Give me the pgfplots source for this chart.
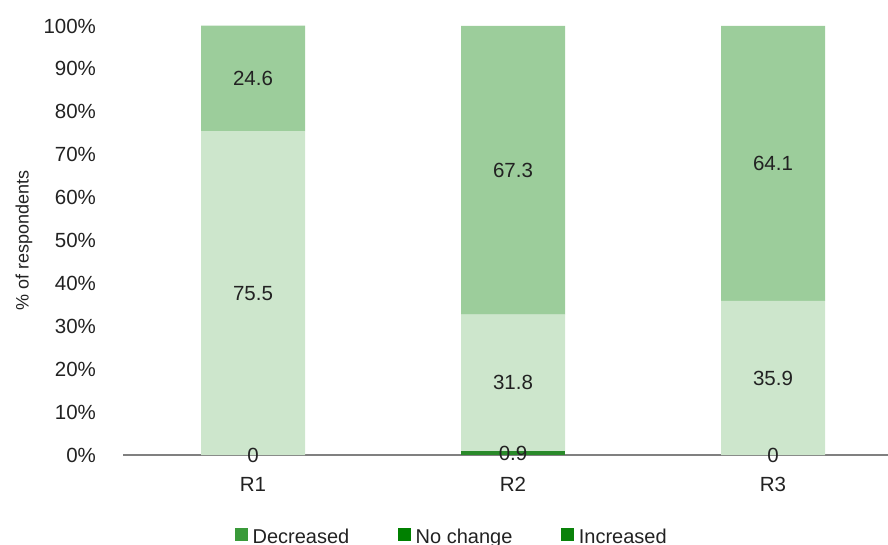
\documentclass[border=0pt]{standalone}
\usepackage{pgfplots}
\pgfplotsset{compat=1.18}
\usepackage{pgfplotstable}
\usepackage{fontspec}
\setmainfont{Liberation Sans}

\definecolor{decbar}{HTML}{9CCD9B}
\definecolor{ncbar}{HTML}{CDE6CC}
\definecolor{incbar}{HTML}{2A8A2A}
\definecolor{declegend}{HTML}{3A9A3A}
\definecolor{nclegend}{HTML}{008000}
\definecolor{inclegend}{HTML}{0A820A}
\definecolor{txt}{HTML}{222222}
\definecolor{axisgray}{HTML}{808080}

% share of respondents per round
\pgfplotstableread{
x inc noch dec
0 0   75.5 24.6
1 0.9 31.8 67.3
2 0   35.9 64.1
}\shares

\pgfplotsset{
  panel/.style={
    at={(123pt,89pt)}, anchor=south west,
    scale only axis, width=765pt, height=429pt,
    xmin=-0.5, xmax=2.4423, ymin=0, ymax=100,
    enlargelimits=false,
  },
  swatch/.style={legend image code/.code={%
    \fill[#1] (0pt,-2pt) rectangle (12pt,10pt);
    \path (15pt,0pt);}},
}

\begin{document}
\fontsize{20.5}{24}\selectfont
\begin{tikzpicture}
\useasboundingbox (0,0) rectangle (888pt,544pt);
\clip (0,0) rectangle (888pt,544pt);
\begin{axis}[panel,
  ybar stacked, bar width=104pt,
  axis x line*=bottom, axis y line*=left,
  y axis line style={draw=none},
  x axis line style={draw=axisgray, line width=1.5pt, -},
  major tick length=0pt,
  xtick={0,1,2}, xticklabels={R1,R2,R3},
  ytick={0,10,...,100},
  yticklabels={0\%,10\%,20\%,30\%,40\%,50\%,60\%,70\%,80\%,90\%,100\%},
  yticklabel style={text=txt, xshift=-20pt},
  xticklabel style={text=txt, yshift=-15pt},
  every axis y label/.style={at={(rel axis cs:0,0.5)}, xshift=-99pt, rotate=90,
    anchor=center, text=txt, font=\fontsize{18}{22}\selectfont},
  ylabel={\% of respondents},
  legend columns=3,
  legend style={at={(rel axis cs:0,0)}, anchor=north west, xshift=112pt, yshift=-72pt,
    draw=none, fill=none, inner sep=0pt, text=txt,
    font=\fontsize{20}{24}\selectfont,
    nodes={inner sep=2pt},
    /tikz/every even column/.append style={column sep=47pt}},
]
\addlegendimage{swatch=declegend}
\addlegendentry{Decreased}
\addlegendimage{swatch=nclegend}
\addlegendentry{No change}
\addlegendimage{swatch=inclegend}
\addlegendentry{Increased}

\addplot[fill=incbar, draw=none, forget plot] table[x=x, y=inc] \shares;
\addplot[fill=ncbar, draw=none, forget plot] table[x=x, y=noch] \shares;
\addplot[fill=decbar, draw=none, forget plot] table[x=x, y=dec] \shares;
\end{axis}

% value labels, centred in each segment
\begin{axis}[panel, hide axis]
\addplot[draw=none, mark=none, nodes near coords, point meta=explicit symbolic,
  every node near coord/.style={anchor=center, text=txt}]
  table[x=x, y expr=\thisrow{inc}/2, meta=inc] \shares;
\addplot[draw=none, mark=none, nodes near coords, point meta=explicit symbolic,
  every node near coord/.style={anchor=center, text=txt}]
  table[x=x, y expr=\thisrow{inc}+\thisrow{noch}/2, meta=noch] \shares;
\addplot[draw=none, mark=none, nodes near coords, point meta=explicit symbolic,
  every node near coord/.style={anchor=center, text=txt}]
  table[x=x, y expr=\thisrow{inc}+\thisrow{noch}+\thisrow{dec}/2, meta=dec] \shares;
\end{axis}
\end{tikzpicture}
\end{document}
